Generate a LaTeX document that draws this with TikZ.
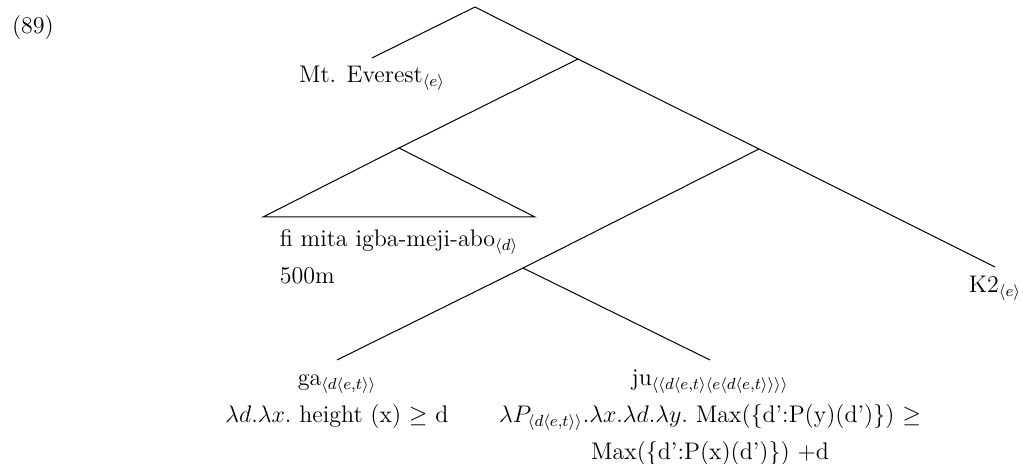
\documentclass[tikz,border=0pt]{standalone}
\usepackage{amsmath,amssymb}
\begin{document}
\begin{tikzpicture}[x=0.5pt,y=-0.5pt,
  edge/.style={draw,line width=0.5pt},
  lbl/.style={inner sep=0pt,outer sep=0pt,anchor=base,font=\fontsize{12}{14.5}\selectfont}]
\useasboundingbox (0,0) rectangle (1023,464);
\renewcommand{\arraystretch}{1.26}
% tree points
\coordinate (root) at (475,7);
\coordinate (X) at (578,59);
\coordinate (Y) at (759,149);
\coordinate (W) at (523,268);
\coordinate (T) at (399,148);
\coordinate (TL) at (263,217);
\coordinate (TR) at (535,217);
\coordinate (mt) at (372,58);
\coordinate (k2) at (995,267);
\coordinate (ga) at (337,360);
\coordinate (ju) at (710,360);
\draw[edge] (root) -- (mt);
\draw[edge] (root) -- (X);
\draw[edge] (X) -- (Y);
\draw[edge] (Y) -- (k2);
\draw[edge] (X) -- (T);
\draw[edge] (T) -- (TL) -- (TR) -- cycle;
\draw[edge] (Y) -- (W);
\draw[edge] (W) -- (ga);
\draw[edge] (W) -- (ju);
% labels
\node[lbl,anchor=base west] (ex) at (12,34) {(89)};
\node[lbl] (mtl) at (372,83) {Mt. Everest$_{\langle e\rangle}$};
\node[lbl] (fi) at (399,247) {\begin{tabular}[t]{@{}l@{}}fi mita igba-meji-abo$_{\langle d\rangle}$\\ 500m\end{tabular}};
\node[lbl] (k2l) at (995,293) {K2$_{\langle e\rangle}$};
\node[lbl] (gal) at (337,386) {\begin{tabular}[t]{@{}c@{}}ga$_{\langle d\langle e,t\rangle\rangle}$\\ $\lambda d.\lambda x.$ height (x) $\geq$ d\end{tabular}};
\node[lbl] (jul) at (710,386) {\begin{tabular}[t]{@{}c@{}}ju$_{\langle\langle d\langle e,t\rangle\langle e\langle d\langle e,t\rangle\rangle\rangle\rangle}$\\ $\lambda P_{\langle d\langle e,t\rangle\rangle}.\lambda x.\lambda d.\lambda y.$ Max(\{d':P(y)(d')\}) $\geq$\\ Max(\{d':P(x)(d')\}) +d\end{tabular}};
\end{tikzpicture}
\end{document}
